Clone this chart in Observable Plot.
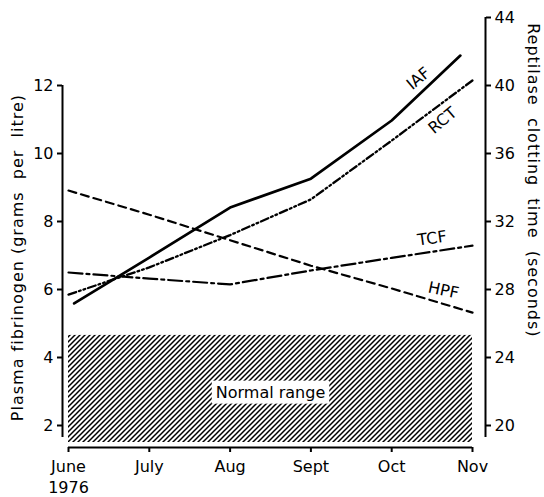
<!DOCTYPE html>
<html>
<head>
<meta charset="utf-8">
<script src="https://cdn.jsdelivr.net/npm/d3@7"></script>
<script src="https://cdn.jsdelivr.net/npm/@observablehq/plot@0.6"></script>
<style>
  html, body { margin: 0; padding: 0; background: white; }
</style>
</head>
<body>
<script>
// ---- Data ----
const monthLabels = ["June\n1976", "July", "Aug", "Sept", "Oct", "Nov"];
const monthIdx = [0, 1, 2, 3, 4, 5];
// Values in left-axis units (plasma fibrinogen, g/l)
const iafX = [0.07, 1, 2, 3, 4, 4.85];
const iafValues = [5.59, 6.94, 8.41, 9.26, 10.97, 12.88];
const rctValues = [5.85, 6.65, 7.6, 8.65, 10.38, 12.15];
const tcfValues = [6.5, 6.32, 6.15, 6.56, 6.93, 7.29];
const hpfValues = [8.91, 8.2, 7.45, 6.7, 6.03, 5.32];
const normalRange = [1.5, 4.65];
const leftTicks = [2, 4, 6, 8, 10, 12];
const rightTicks = [20, 24, 28, 32, 36, 40, 44];
const seriesNames = ["IAF", "RCT", "TCF", "HPF"];
const labelX = [4.33, 4.63, 4.5, 4.64];
const labelY = [12.2, 10.97, 7.5, 5.97];
const labelAngle = [-40, -40, -8, 12];
const leftTitle = "Plasma fibrinogen (grams  per  litre)";
const rightTitle = "Reptilase  clotting  time  (seconds)";

// right axis (seconds) -> left axis units
const toLeft = r => 2 + (r - 20) / 2;

const iaf = iafValues.map((v, i) => ({x: iafX[i], v}));
const rct = rctValues.map((v, i) => ({x: monthIdx[i], v}));
const tcf = tcfValues.map((v, i) => ({x: monthIdx[i], v}));
const hpf = hpfValues.map((v, i) => ({x: monthIdx[i], v}));
const labels = seriesNames.map((n, i) => ({n, x: labelX[i], y: labelY[i], a: labelAngle[i]}));
const normal = [{x1: monthIdx[0], x2: monthIdx[5], lo: normalRange[0], hi: normalRange[1]}];

const font = "DejaVu Sans, sans-serif";

const chart = Plot.plot({
  width: 544,
  height: 497,
  marginLeft: 62,
  marginRight: 59,
  marginTop: 17,
  marginBottom: 50,
  style: {fontFamily: font, fontSize: "16px", color: "black", background: "white"},
  x: {domain: [0, 5], range: [68, 472], label: null},
  y: {domain: [2, 14], range: [425, 17], label: null},
  marks: [
    Plot.rect(normal, {x1: "x1", x2: "x2", y1: "lo", y2: "hi", fill: "url(#hatch)"}),
    Plot.text(["Normal range"], {x: 2.5, y: 2.97, text: d => d, fontSize: 16, fill: "black"}),
    Plot.line(hpf, {x: "x", y: "v", stroke: "black", strokeWidth: 2.2, strokeDasharray: "8,5"}),
    Plot.line(tcf, {x: "x", y: "v", stroke: "black", strokeWidth: 2.2, strokeDasharray: "14,4,3,4"}),
    Plot.line(rct, {x: "x", y: "v", stroke: "black", strokeWidth: 2.3, strokeDasharray: "8,3,1.8,3,1.8,3"}),
    Plot.line(iaf, {x: "x", y: "v", stroke: "black", strokeWidth: 2.7}),
    Plot.text(labels, {x: "x", y: "y", text: "n", rotate: "a", fontSize: 16, fill: "black"}),
    // axis lines
    Plot.ruleX([0], {dx: -6, y1: 1.65, y2: 12, stroke: "black", strokeWidth: 2}),
    Plot.ruleX([5], {dx: 13, y1: 1.65, y2: 14, stroke: "black", strokeWidth: 2}),
    Plot.ruleY([1.35], {x1: 0, x2: 5, stroke: "black", strokeWidth: 2}),
    Plot.axisX({ticks: monthIdx, tickFormat: i => monthLabels[i], tickSize: 5, tickPadding: 5, fontSize: 16, strokeWidth: 2, lineHeight: 1.3}),
    Plot.axisY({anchor: "left", ticks: leftTicks, tickSize: 5, tickPadding: 4, fontSize: 16, strokeWidth: 2}),
    Plot.axisY({anchor: "right", ticks: rightTicks.map(toLeft), tickFormat: d => String(20 + (d - 2) * 2), tickSize: 5, tickPadding: 4, fontSize: 16, strokeWidth: 2}),
    Plot.text([leftTitle], {x: -0.631, y: 6.94, text: d => d, rotate: -90, fontSize: 16, fill: "black"}),
    Plot.text([rightTitle], {x: 5.755, y: 9.21, text: d => d, rotate: 90, fontSize: 16, fill: "black"})
  ]
});

document.body.appendChild(chart);

// hatch pattern
const svg = d3.select(chart);
svg.insert("defs", ":first-child").html(
  '<pattern id="hatch" patternUnits="userSpaceOnUse" width="5" height="5">' +
  '<rect width="5" height="5" fill="white"/>' +
  '<path d="M-1,1 L1,-1 M0,5 L5,0 M4,6 L6,4" stroke="black" stroke-width="1.5"/>' +
  '</pattern>'
);

svg.selectAll("text").each(function() {
  const t = this.textContent;
  if (t === leftTitle || t === rightTitle) {
    this.style.letterSpacing = "1px";
  }
  // white box behind "Normal range"
  if (t === "Normal range") {
    const b = this.getBBox();
    d3.select(this.parentNode).insert("rect", ":first-child")
      .attr("transform", this.getAttribute("transform"))
      .attr("x", b.x - 4).attr("y", b.y - 2)
      .attr("width", b.width + 8).attr("height", b.height + 4)
      .attr("fill", "white");
  }
});
</script>
</body>
</html>
